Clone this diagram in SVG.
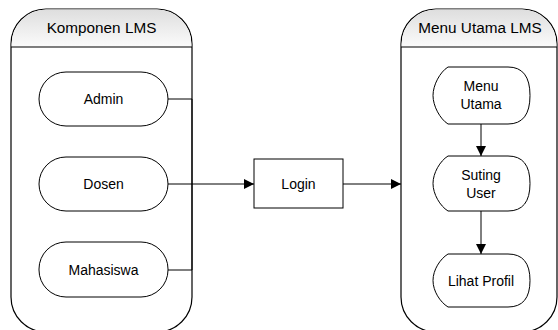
<svg xmlns="http://www.w3.org/2000/svg" width="558" height="330" viewBox="0 0 558 330">
  <defs>
    <linearGradient id="hdr" x1="0" y1="0" x2="0" y2="1">
      <stop offset="0" stop-color="#dedede"/>
      <stop offset="1" stop-color="#fbfbfb"/>
    </linearGradient>
    <marker id="arr" viewBox="0 0 10 10" refX="10" refY="5" markerWidth="10" markerHeight="10" markerUnits="userSpaceOnUse" orient="auto">
      <path d="M0,0 L10,5 L0,10 Z" fill="#000"/>
    </marker>
  </defs>
  <style>
    .lane { fill: #fff; stroke: #000; stroke-width: 1.2; }
    .hdr { fill: url(#hdr); stroke: none; }
    .sep { stroke: #000; stroke-width: 1.2; }
    .node { fill: #fff; stroke: #000; stroke-width: 1; }
    .txt { font-family: "Liberation Sans", Arial, sans-serif; font-size: 14px; fill: #000; text-anchor: middle; }
    .small { font-size: 12px; }
    .title { font-family: "Liberation Sans", Arial, sans-serif; font-size: 15.3px; fill: #000; text-anchor: middle; }
    .edge { fill: none; stroke: #000; stroke-width: 1; }
  </style>

  <!-- swimlane: Komponen LMS -->
  <g id="lane-komponen">
    <path class="lane" d="M11,44 A35,35 0 0 1 46,9 L157,9 A35,35 0 0 1 192,44 L192,297 A35,35 0 0 1 157,332 L46,332 A35,35 0 0 1 11,297 Z"/>
    <path class="hdr" d="M11.6,44 A34.4,34.4 0 0 1 46,9.6 L157,9.6 A34.4,34.4 0 0 1 191.4,44 L191.4,47 L11.6,47 Z"/>
    <line class="sep" x1="11" y1="47" x2="192" y2="47"/>
    <text class="title" x="101.5" y="33">Komponen LMS</text>
  </g>

  <!-- swimlane: Menu Utama LMS -->
  <g id="lane-menu">
    <path class="lane" d="M401,44 A35,35 0 0 1 436,9 L522,9 A35,35 0 0 1 557,44 L557,297 A35,35 0 0 1 522,332 L436,332 A35,35 0 0 1 401,297 Z"/>
    <path class="hdr" d="M401.6,44 A34.4,34.4 0 0 1 436,9.6 L522,9.6 A34.4,34.4 0 0 1 556.4,44 L556.4,47 L401.6,47 Z"/>
    <line class="sep" x1="401" y1="47" x2="557" y2="47"/>
    <text class="title" x="480" y="33">Menu Utama LMS</text>
  </g>

  <!-- actors -->
  <g id="admin">
    <rect class="node" x="39" y="72" width="129" height="54" rx="27" ry="27"/>
    <text class="txt" x="103.5" y="104">Admin</text>
  </g>
  <g id="dosen">
    <rect class="node" x="39" y="157" width="129" height="54" rx="27" ry="27"/>
    <text class="txt" x="103.5" y="189">Dosen</text>
  </g>
  <g id="mahasiswa">
    <rect class="node" x="39" y="242" width="129" height="55" rx="27" ry="27"/>
    <text class="txt" x="103.5" y="275">Mahasiswa</text>
  </g>

  <!-- login process -->
  <g id="login">
    <rect class="node" x="254" y="159" width="89" height="49"/>
    <text class="txt" x="298.5" y="188.5">Login</text>
  </g>

  <!-- display shapes -->
  <g id="menu-utama">
    <path class="node" d="M448,67 L508,67 Q530,67 530,95.5 Q530,124 508,124 L448,124 C440,119 433,106 433,95.5 C433,85 440,72 448,67 Z"/>
    <text class="txt" x="481" y="91">Menu</text>
    <text class="txt" x="481" y="109">Utama</text>
  </g>
  <g id="suting-user">
    <path class="node" d="M448,156 L508,156 Q530,156 530,183.5 Q530,211 508,211 L448,211 C440,206 433,194 433,183.5 C433,173 440,161 448,156 Z"/>
    <text class="txt" x="481" y="180">Suting</text>
    <text class="txt" x="481" y="198">User</text>
  </g>
  <g id="lihat-profil">
    <path class="node" d="M448,254 L508,254 Q530,254 530,280.5 Q530,307 508,307 L448,307 C440,302 433,291 433,280.5 C433,270 440,259 448,254 Z"/>
    <text class="txt" x="481" y="286">Lihat Profil</text>
  </g>

  <!-- connectors -->
  <g id="connectors">
    <path class="edge" d="M168,99 L192,99 L192,270 L168,270"/>
    <path class="edge" d="M168,184 L192,184"/>
    <path class="edge" d="M192,184 L254,184" stroke-width="1.5" marker-end="url(#arr)"/>
    <path class="edge" d="M343,184 L401,184" marker-end="url(#arr)"/>
    <path class="edge" d="M481,124 L481,156" marker-end="url(#arr)"/>
    <path class="edge" d="M481,211 L481,254" marker-end="url(#arr)"/>
  </g>
</svg>
